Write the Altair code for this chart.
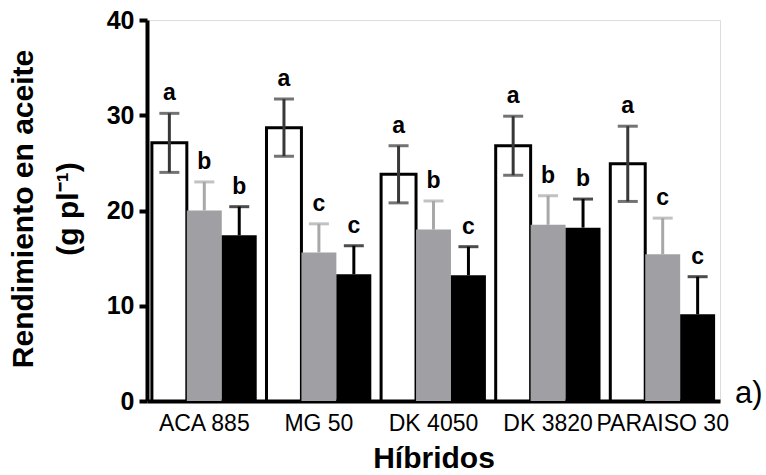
import altair as alt
import pandas as pd

# Oil yield per plant for five sunflower hybrids under three treatments
hybrids = ["ACA 885", "MG 50", "DK 4050", "DK 3820", "PARAISO 30"]
treatments = ["T1", "T2", "T3"]

mean_t1 = [27.1, 28.7, 23.8, 26.8, 24.9]
mean_t2 = [20.0, 15.6, 18.0, 18.5, 15.4]
mean_t3 = [17.4, 13.3, 13.2, 18.2, 9.1]

err_t1 = [3.1, 3.0, 3.0, 3.1, 3.95]
err_t2 = [3.0, 3.0, 3.0, 3.05, 3.8]
err_t3 = [3.0, 3.0, 3.0, 3.0, 3.95]

letters_t1 = ["a", "a", "a", "a", "a"]
letters_t2 = ["b", "c", "b", "b", "c"]
letters_t3 = ["b", "c", "c", "b", "c"]

rows = []
for trt, means, errs, lets in [
    ("T1", mean_t1, err_t1, letters_t1),
    ("T2", mean_t2, err_t2, letters_t2),
    ("T3", mean_t3, err_t3, letters_t3),
]:
    for h, m, e, l in zip(hybrids, means, errs, lets):
        rows.append({
            "hibrido": h, "trt": trt, "media": m,
            "hi": m + e,
            # open bars show the whole error bar, filled bars only the upper half
            "lo": m - e if trt == "T1" else m,
            "letra": l,
        })
df = pd.DataFrame(rows)

W, H = 573, 381

x_enc = alt.X("hibrido:N", sort=hybrids,
              scale=alt.Scale(paddingInner=0, paddingOuter=0),
              axis=alt.Axis(title="Híbridos", labelAngle=0, ticks=False,
                            labelFontSize=23, labelFont="Liberation Sans",
                            labelColor="black", labelPadding=11,
                            titleFontSize=30, titleFontWeight="bold",
                            titleFont="Liberation Sans", titleColor="black",
                            titleBaseline="alphabetic", titleY=66,
                            domainColor="black", domainWidth=4))
xo_enc = alt.XOffset("trt:N", sort=treatments,
                     scale=alt.Scale(paddingInner=0, paddingOuter=0.14))
y_scale = alt.Scale(domain=[0, 40], nice=False)

fill_scale = alt.Scale(domain=treatments, range=["white", "#a0a0a4", "black"])
err_scale = alt.Scale(domain=treatments, range=["#383838", "#a8a8a8", "black"])

base = alt.Chart(df)

bars = base.mark_bar(stroke="black").encode(
    x=x_enc, xOffset=xo_enc,
    y=alt.Y("media:Q", scale=y_scale,
            axis=alt.Axis(title=["Rendimiento en aceite", "(g pl⁻¹)"],
                          values=[0, 10, 20, 30, 40], grid=False,
                          labelFontSize=25, labelFontWeight="bold",
                          labelFont="Liberation Sans", labelColor="black",
                          labelPadding=5,
                          tickSize=8, tickWidth=4, tickColor="black",
                          domainColor="black", domainWidth=4,
                          titleFontSize=30, titleFontWeight="bold",
                          titleFont="Liberation Sans", titleColor="black",
                          titleLineHeight=45, titleBaseline="alphabetic",
                          titleAngle=270, titleAlign="center",
                          titleX=-115, titleY=H / 2 - 2)),
    fill=alt.Fill("trt:N", scale=fill_scale, legend=None),
    strokeWidth=alt.condition(alt.datum.trt == "T1", alt.value(3), alt.value(0)),
)

err_line = base.mark_rule(strokeWidth=3).encode(
    x=alt.X("hibrido:N", sort=hybrids), xOffset=xo_enc,
    y=alt.Y("lo:Q", scale=y_scale), y2="hi:Q",
    color=alt.Color("trt:N", scale=err_scale, legend=None),
)

cap_hi = base.mark_tick(thickness=3, size=20).encode(
    x=alt.X("hibrido:N", sort=hybrids), xOffset=xo_enc,
    y=alt.Y("hi:Q", scale=y_scale),
    color=alt.Color("trt:N", scale=err_scale, legend=None),
)

cap_lo = base.transform_filter(alt.datum.trt == "T1").mark_tick(
    thickness=3, size=20).encode(
    x=alt.X("hibrido:N", sort=hybrids), xOffset=xo_enc,
    y=alt.Y("lo:Q", scale=y_scale),
    color=alt.Color("trt:N", scale=err_scale, legend=None),
)

letters = base.mark_text(fontSize=23, fontWeight="bold", font="Liberation Sans",
                         color="black", baseline="alphabetic", dy=-13).encode(
    x=alt.X("hibrido:N", sort=hybrids), xOffset=xo_enc,
    y=alt.Y("hi:Q", scale=y_scale),
    text="letra:N",
)

panel_tag = alt.Chart(pd.DataFrame({"t": ["a)"]})).mark_text(
    fontSize=31, font="Liberation Sans", color="black",
    align="left", baseline="alphabetic").encode(
    x=alt.value(W + 15), y=alt.value(H + 2), text="t:N")

chart = alt.layer(bars, err_line, cap_hi, cap_lo, letters, panel_tag).properties(
    width=W, height=H,
    autosize=alt.AutoSizeParams(type="none"),
    padding={"left": 147, "top": 20, "right": 46, "bottom": 74},
).configure_view(stroke=None).configure(background="white")

chart.save("out.html", embed_options={"renderer": "svg", "actions": False})
